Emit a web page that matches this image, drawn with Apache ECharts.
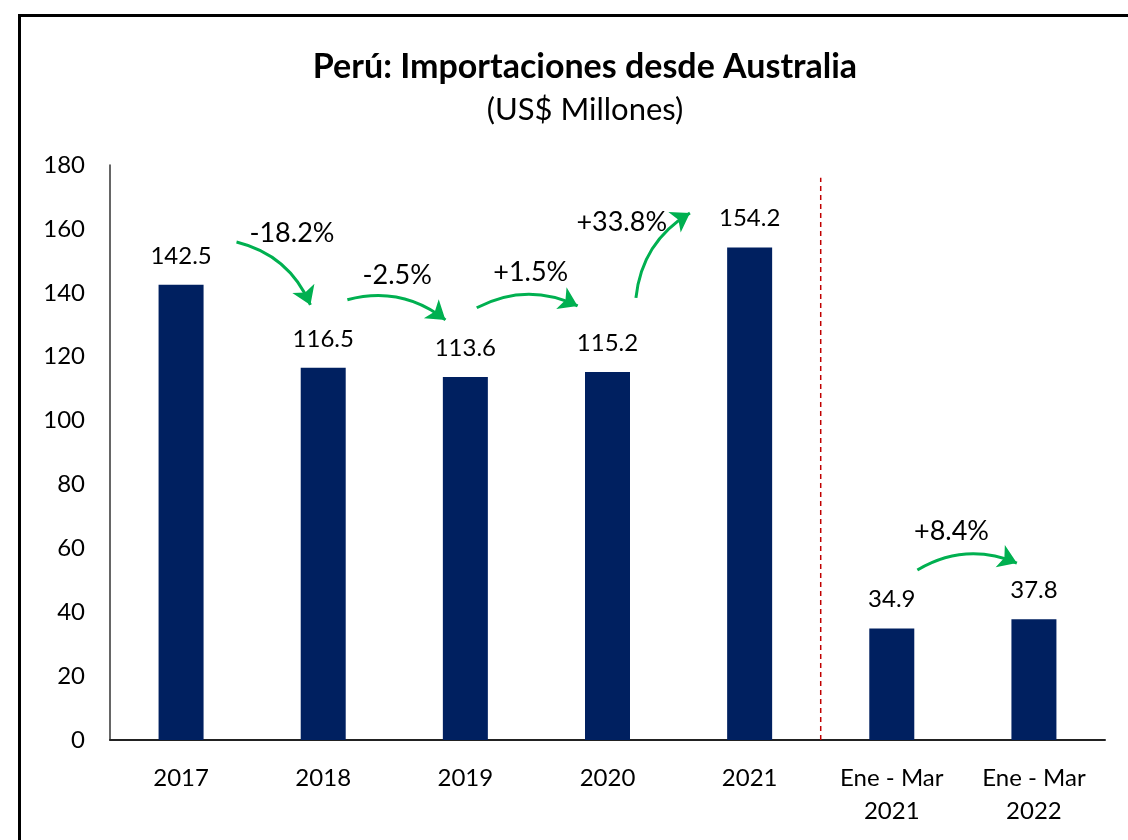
<!DOCTYPE html>
<html>
<head>
<meta charset="utf-8">
<script src="https://cdn.jsdelivr.net/npm/echarts@6/dist/echarts.min.js"></script>
<style>
  html, body { margin: 0; padding: 0; background: #fff; }
  #chart { width: 1128px; height: 840px; }
</style>
</head>
<body>
<div id="chart"></div>
<script>
const categories = ['2017', '2018', '2019', '2020', '2021', 'Ene - Mar\n2021', 'Ene - Mar\n2022'];
const values = [142.5, 116.5, 113.6, 115.2, 154.2, 34.9, 37.8];

// arrows between bars, in [x index, value] terms of the hidden value axis
const arrows = [
    [[0.39, 155.9], [0.91, 136.2]],
    [[1.17, 137.8], [1.86, 131.5]],
    [[2.08, 135.3], [2.79, 135.9]],
    [[3.20, 138.4], [3.58, 165.0]],
    [[5.18, 53.2], [5.88, 55.4]]
];
const changeLabels = ['-18.2%', '-2.5%', '+1.5%', '+33.8%', '+8.4%'];
const changePos = [[0.78, 158.7], [1.52, 145.6], [2.46, 146.5], [3.10, 162.2], [5.42, 65.4]];
const dividerX = 4.5;
const dividerTop = 176;

const FONT = "Lato, 'Liberation Sans', sans-serif";

const chart = echarts.init(document.getElementById('chart'));

const option = {
    backgroundColor: '#fff',
    animation: false,
    title: {
        text: 'Perú: Importaciones desde Australia',
        subtext: '(US$ Millones)',
        left: 580,
        textAlign: 'center',
        top: 45,
        itemGap: 10,
        textStyle: { fontFamily: FONT, fontSize: 34, fontWeight: 'bold', color: '#000' },
        subtextStyle: { fontFamily: FONT, fontSize: 31, color: '#000' }
    },
    graphic: [{
        type: 'rect',
        shape: { x: 19.5, y: 15.5, width: 1200, height: 900 },
        style: { fill: 'none', stroke: '#000', lineWidth: 3 },
        silent: true
    }],
    grid: { left: 110, right: 23, top: 165, bottom: 100 },
    xAxis: [{
        type: 'category',
        data: categories,
        axisLine: { lineStyle: { color: '#222', width: 2 } },
        axisTick: { show: false },
        axisLabel: { color: '#000', fontFamily: FONT, fontSize: 24, margin: 22, lineHeight: 33, interval: 0 }
    }, {
        type: 'value',
        min: -0.5,
        max: 6.5,
        show: false
    }],
    yAxis: {
        type: 'value',
        min: 0,
        max: 180,
        interval: 20,
        axisLine: { show: true, onZero: false, lineStyle: { color: '#333', width: 1.5 } },
        axisTick: { show: false },
        splitLine: { show: false },
        axisLabel: { color: '#000', fontFamily: FONT, fontSize: 24, margin: 25 }
    },
    series: [{
        type: 'bar',
        data: values,
        barWidth: 45,
        itemStyle: { color: '#002060' },
        label: {
            show: true,
            position: 'top',
            distance: 17,
            color: '#000',
            fontFamily: FONT,
            fontSize: 24,
            formatter: p => p.value.toFixed(1)
        }
    }, {
        type: 'line',
        xAxisIndex: 1,
        data: [[dividerX, 0], [dividerX, dividerTop]],
        symbol: 'none',
        lineStyle: { color: '#C00000', width: 1.5, type: [5, 4] }
    }, {
        type: 'lines',
        coordinateSystem: 'cartesian2d',
        xAxisIndex: 1,
        symbol: ['none', 'arrow'],
        symbolSize: [0, 18],
        lineStyle: { color: '#00B050', width: 3, curveness: 0.25, opacity: 1 },
        data: arrows.map(a => ({ coords: a }))
    }, {
        type: 'scatter',
        xAxisIndex: 1,
        symbolSize: 0,
        itemStyle: { opacity: 1 },
        data: changePos,
        label: {
            show: true,
            position: 'inside',
            color: '#000',
            opacity: 1,
            textBorderWidth: 0,
            fontFamily: FONT,
            fontSize: 27,
            formatter: p => changeLabels[p.dataIndex]
        }
    }]
};

chart.setOption(option);
</script>
</body>
</html>
